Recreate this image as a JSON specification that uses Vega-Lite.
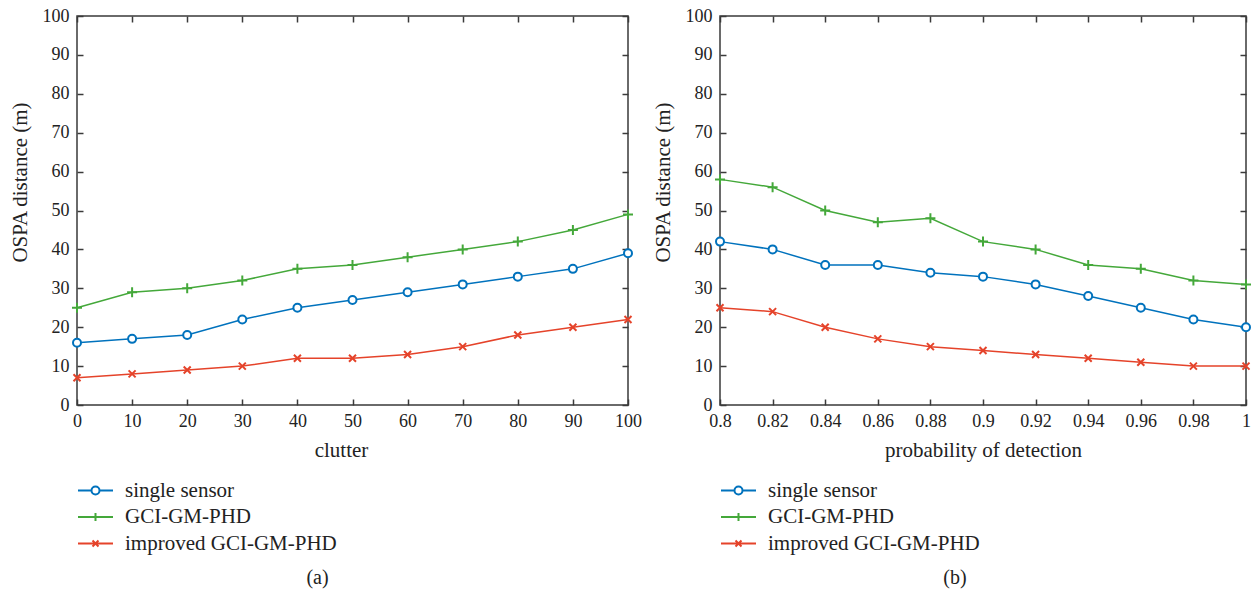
{
  "$schema": "https://vega.github.io/schema/vega-lite/v6.json",
  "padding": {"left": 8, "top": 6, "right": 5, "bottom": 5},
  "background": "white",
  "config": {
    "font": "Liberation Serif",
    "view": {"stroke": "#3a3a3a", "strokeWidth": 1.5},
    "axis": {
      "labelFont": "Liberation Serif", "labelFontSize": 18, "labelColor": "#222",
      "titleFont": "Liberation Serif", "titleFontSize": 21, "titleFontWeight": "normal", "titleColor": "#222",
      "tickColor": "#3a3a3a", "tickWidth": 1.5, "tickSize": -6,
      "domain": false, "grid": false, "labelFlush": false
    },
    "legend": {"labelFont": "Liberation Serif", "labelFontSize": 21, "labelColor": "#222", "labelLimit": 400},
    "title": {"font": "Liberation Serif", "fontSize": 20, "fontWeight": "normal", "color": "#222"}
  },
  "datasets": {
    "left": [
      {"x": 0, "series": "single sensor", "v": 16}, {"x": 10, "series": "single sensor", "v": 17}, {"x": 20, "series": "single sensor", "v": 18}, {"x": 30, "series": "single sensor", "v": 22}, {"x": 40, "series": "single sensor", "v": 25}, {"x": 50, "series": "single sensor", "v": 27}, {"x": 60, "series": "single sensor", "v": 29}, {"x": 70, "series": "single sensor", "v": 31}, {"x": 80, "series": "single sensor", "v": 33}, {"x": 90, "series": "single sensor", "v": 35}, {"x": 100, "series": "single sensor", "v": 39},
      {"x": 0, "series": "GCI-GM-PHD", "v": 25}, {"x": 10, "series": "GCI-GM-PHD", "v": 29}, {"x": 20, "series": "GCI-GM-PHD", "v": 30}, {"x": 30, "series": "GCI-GM-PHD", "v": 32}, {"x": 40, "series": "GCI-GM-PHD", "v": 35}, {"x": 50, "series": "GCI-GM-PHD", "v": 36}, {"x": 60, "series": "GCI-GM-PHD", "v": 38}, {"x": 70, "series": "GCI-GM-PHD", "v": 40}, {"x": 80, "series": "GCI-GM-PHD", "v": 42}, {"x": 90, "series": "GCI-GM-PHD", "v": 45}, {"x": 100, "series": "GCI-GM-PHD", "v": 49},
      {"x": 0, "series": "improved GCI-GM-PHD", "v": 7}, {"x": 10, "series": "improved GCI-GM-PHD", "v": 8}, {"x": 20, "series": "improved GCI-GM-PHD", "v": 9}, {"x": 30, "series": "improved GCI-GM-PHD", "v": 10}, {"x": 40, "series": "improved GCI-GM-PHD", "v": 12}, {"x": 50, "series": "improved GCI-GM-PHD", "v": 12}, {"x": 60, "series": "improved GCI-GM-PHD", "v": 13}, {"x": 70, "series": "improved GCI-GM-PHD", "v": 15}, {"x": 80, "series": "improved GCI-GM-PHD", "v": 18}, {"x": 90, "series": "improved GCI-GM-PHD", "v": 20}, {"x": 100, "series": "improved GCI-GM-PHD", "v": 22}
    ],
    "right": [
      {"x": 0.8, "series": "single sensor", "v": 42}, {"x": 0.82, "series": "single sensor", "v": 40}, {"x": 0.84, "series": "single sensor", "v": 36}, {"x": 0.86, "series": "single sensor", "v": 36}, {"x": 0.88, "series": "single sensor", "v": 34}, {"x": 0.9, "series": "single sensor", "v": 33}, {"x": 0.92, "series": "single sensor", "v": 31}, {"x": 0.94, "series": "single sensor", "v": 28}, {"x": 0.96, "series": "single sensor", "v": 25}, {"x": 0.98, "series": "single sensor", "v": 22}, {"x": 1.0, "series": "single sensor", "v": 20},
      {"x": 0.8, "series": "GCI-GM-PHD", "v": 58}, {"x": 0.82, "series": "GCI-GM-PHD", "v": 56}, {"x": 0.84, "series": "GCI-GM-PHD", "v": 50}, {"x": 0.86, "series": "GCI-GM-PHD", "v": 47}, {"x": 0.88, "series": "GCI-GM-PHD", "v": 48}, {"x": 0.9, "series": "GCI-GM-PHD", "v": 42}, {"x": 0.92, "series": "GCI-GM-PHD", "v": 40}, {"x": 0.94, "series": "GCI-GM-PHD", "v": 36}, {"x": 0.96, "series": "GCI-GM-PHD", "v": 35}, {"x": 0.98, "series": "GCI-GM-PHD", "v": 32}, {"x": 1.0, "series": "GCI-GM-PHD", "v": 31},
      {"x": 0.8, "series": "improved GCI-GM-PHD", "v": 25}, {"x": 0.82, "series": "improved GCI-GM-PHD", "v": 24}, {"x": 0.84, "series": "improved GCI-GM-PHD", "v": 20}, {"x": 0.86, "series": "improved GCI-GM-PHD", "v": 17}, {"x": 0.88, "series": "improved GCI-GM-PHD", "v": 15}, {"x": 0.9, "series": "improved GCI-GM-PHD", "v": 14}, {"x": 0.92, "series": "improved GCI-GM-PHD", "v": 13}, {"x": 0.94, "series": "improved GCI-GM-PHD", "v": 12}, {"x": 0.96, "series": "improved GCI-GM-PHD", "v": 11}, {"x": 0.98, "series": "improved GCI-GM-PHD", "v": 10}, {"x": 1.0, "series": "improved GCI-GM-PHD", "v": 10}
    ]
  },
  "hconcat": [
    {
      "width": 551, "height": 389,
      "data": {"name": "left"},
      "title": {"text": "(a)", "orient": "bottom", "offset": 14, "dx": -35},
      "layer": [
        {
          "mark": {"type": "line", "strokeWidth": 1.5},
          "encoding": {
            "x": {"field": "x", "type": "quantitative", "scale": {"domain": [0, 100], "nice": false}, "axis": {"orient": "bottom", "values": [0,10,20,30,40,50,60,70,80,90,100], "title": "clutter", "labelPadding": 13, "titlePadding": 9, "titleX": 264}},
            "y": {"field": "v", "type": "quantitative", "scale": {"domain": [0, 100], "nice": false}, "axis": {"orient": "left", "values": [0,10,20,30,40,50,60,70,80,90,100], "title": "OSPA distance (m)", "labelPadding": 14, "titlePadding": 12, "titleY": 166}},
            "color": {"field": "series", "type": "nominal", "sort": ["single sensor", "GCI-GM-PHD", "improved GCI-GM-PHD"],
              "scale": {"domain": ["single sensor", "GCI-GM-PHD", "improved GCI-GM-PHD"], "range": ["#0072bd", "#44a83a", "#e5432a"]},
              "legend": {"title": null, "orient": "none", "legendX": 8, "legendY": 464, "direction": "vertical", "symbolSize": 100, "symbolStrokeWidth": 2, "labelOffset": 19, "rowPadding": 4.5,
                "encode": {"symbols": {"update": {"shape": {"signal": "datum.value === 'single sensor' ? 'M-3.5,0L-0.8,0M0.8,0L3.5,0M0.8,0A0.8,0.8,0,1,1,-0.8,0A0.8,0.8,0,1,1,0.8,0' : datum.value === 'GCI-GM-PHD' ? 'M-3.5,0L3.5,0M0,-0.8L0,0.8' : 'M-3.5,0L3.5,0M-0.6,-0.6L0.6,0.6M-0.6,0.6L0.6,-0.6'"}, "fill": {"value": "transparent"}, "size": {"value": 100}, "strokeWidth": {"value": 2}}}}}
            }
          }
        },
        {
          "transform": [{"filter": "datum.series === 'single sensor'"}],
          "mark": {"type": "point", "shape": "M0.8,0A0.8,0.8,0,1,1,-0.8,0A0.8,0.8,0,1,1,0.8,0", "filled": false, "fill": "white", "size": 100, "strokeWidth": 2, "opacity": 1},
          "encoding": {
            "x": {"field": "x", "type": "quantitative", "axis": {"orient": "top", "values": [0,10,20,30,40,50,60,70,80,90,100], "labels": false, "title": null}},
            "y": {"field": "v", "type": "quantitative", "axis": {"orient": "right", "values": [0,10,20,30,40,50,60,70,80,90,100], "labels": false, "title": null}},
            "color": {"field": "series", "type": "nominal", "legend": null}
          }
        },
        {
          "transform": [{"filter": "datum.series === 'GCI-GM-PHD'"}],
          "mark": {"type": "point", "shape": "M-1,0L1,0M0,-1L0,1", "filled": false, "size": 100, "strokeWidth": 2, "opacity": 1},
          "encoding": {
            "x": {"field": "x", "type": "quantitative", "axis": null},
            "y": {"field": "v", "type": "quantitative", "axis": null},
            "color": {"field": "series", "type": "nominal", "legend": null}
          }
        },
        {
          "transform": [{"filter": "datum.series === 'improved GCI-GM-PHD'"}],
          "mark": {"type": "point", "shape": "M-0.7,-0.7L0.7,0.7M-0.7,0.7L0.7,-0.7", "filled": false, "size": 100, "strokeWidth": 2, "opacity": 1},
          "encoding": {
            "x": {"field": "x", "type": "quantitative", "axis": null},
            "y": {"field": "v", "type": "quantitative", "axis": null},
            "color": {"field": "series", "type": "nominal", "legend": null}
          }
        }
      ],
      "resolve": {"axis": {"x": "independent", "y": "independent"}}
    },
    {
      "width": 526, "height": 389,
      "data": {"name": "right"},
      "title": {"text": "(b)", "orient": "bottom", "offset": 14, "dx": -28},
      "layer": [
        {
          "mark": {"type": "line", "strokeWidth": 1.5},
          "encoding": {
            "x": {"field": "x", "type": "quantitative", "scale": {"domain": [0.8, 1], "nice": false}, "axis": {"orient": "bottom", "values": [0.8,0.82,0.84,0.86,0.88,0.9,0.92,0.94,0.96,0.98,1], "format": ".2~f", "title": "probability of detection", "labelPadding": 13, "titlePadding": 9}},
            "y": {"field": "v", "type": "quantitative", "scale": {"domain": [0, 100], "nice": false}, "axis": {"orient": "left", "values": [0,10,20,30,40,50,60,70,80,90,100], "title": "OSPA distance (m)", "labelPadding": 14, "titlePadding": 12, "titleY": 166}},
            "color": {"field": "series", "type": "nominal", "sort": ["single sensor", "GCI-GM-PHD", "improved GCI-GM-PHD"],
              "scale": {"domain": ["single sensor", "GCI-GM-PHD", "improved GCI-GM-PHD"], "range": ["#0072bd", "#44a83a", "#e5432a"]},
              "legend": {"title": null, "orient": "none", "legendX": 8, "legendY": 464, "direction": "vertical", "symbolSize": 100, "symbolStrokeWidth": 2, "labelOffset": 19, "rowPadding": 4.5,
                "encode": {"symbols": {"update": {"shape": {"signal": "datum.value === 'single sensor' ? 'M-3.5,0L-0.8,0M0.8,0L3.5,0M0.8,0A0.8,0.8,0,1,1,-0.8,0A0.8,0.8,0,1,1,0.8,0' : datum.value === 'GCI-GM-PHD' ? 'M-3.5,0L3.5,0M0,-0.8L0,0.8' : 'M-3.5,0L3.5,0M-0.6,-0.6L0.6,0.6M-0.6,0.6L0.6,-0.6'"}, "fill": {"value": "transparent"}, "size": {"value": 100}, "strokeWidth": {"value": 2}}}}}
            }
          }
        },
        {
          "transform": [{"filter": "datum.series === 'single sensor'"}],
          "mark": {"type": "point", "shape": "M0.8,0A0.8,0.8,0,1,1,-0.8,0A0.8,0.8,0,1,1,0.8,0", "filled": false, "fill": "white", "size": 100, "strokeWidth": 2, "opacity": 1},
          "encoding": {
            "x": {"field": "x", "type": "quantitative", "axis": {"orient": "top", "values": [0.8,0.82,0.84,0.86,0.88,0.9,0.92,0.94,0.96,0.98,1], "labels": false, "title": null}},
            "y": {"field": "v", "type": "quantitative", "axis": {"orient": "right", "values": [0,10,20,30,40,50,60,70,80,90,100], "labels": false, "title": null}},
            "color": {"field": "series", "type": "nominal", "legend": null}
          }
        },
        {
          "transform": [{"filter": "datum.series === 'GCI-GM-PHD'"}],
          "mark": {"type": "point", "shape": "M-1,0L1,0M0,-1L0,1", "filled": false, "size": 100, "strokeWidth": 2, "opacity": 1},
          "encoding": {
            "x": {"field": "x", "type": "quantitative", "axis": null},
            "y": {"field": "v", "type": "quantitative", "axis": null},
            "color": {"field": "series", "type": "nominal", "legend": null}
          }
        },
        {
          "transform": [{"filter": "datum.series === 'improved GCI-GM-PHD'"}],
          "mark": {"type": "point", "shape": "M-0.7,-0.7L0.7,0.7M-0.7,0.7L0.7,-0.7", "filled": false, "size": 100, "strokeWidth": 2, "opacity": 1},
          "encoding": {
            "x": {"field": "x", "type": "quantitative", "axis": null},
            "y": {"field": "v", "type": "quantitative", "axis": null},
            "color": {"field": "series", "type": "nominal", "legend": null}
          }
        }
      ],
      "resolve": {"axis": {"x": "independent", "y": "independent"}}
    }
  ],
  "spacing": 8,
  "resolve": {"scale": {"color": "independent"}, "legend": {"color": "independent"}}
}
